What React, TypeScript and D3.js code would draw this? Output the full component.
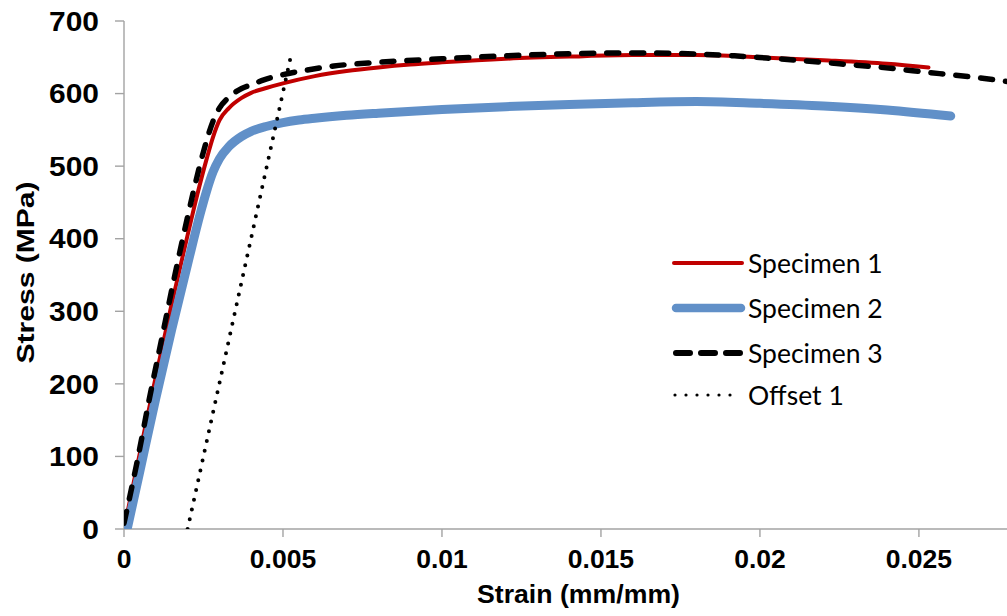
import React from "react";
import * as d3 from "d3";

type P = [number, number];

const specimen1: P[] = [
  [0, 0], [0.0005, 105], [0.001, 210], [0.0015, 310], [0.002, 405], [0.0023, 460],
  [0.0026, 510], [0.0028, 540], [0.003, 563], [0.0033, 580], [0.0037, 594], [0.004, 601],
  [0.0045, 608], [0.005, 614], [0.006, 624], [0.007, 631], [0.008, 636], [0.009, 640],
  [0.01, 643], [0.012, 648], [0.014, 651], [0.016, 653], [0.018, 653], [0.02, 650],
  [0.022, 646], [0.024, 641], [0.0253, 636],
];

const specimen2: P[] = [
  [0.0001, 0], [0.0005, 80], [0.001, 180], [0.0015, 275], [0.002, 365], [0.0024, 435],
  [0.0026, 466], [0.0028, 492], [0.003, 510], [0.0033, 527], [0.0037, 541], [0.004, 548],
  [0.0045, 555], [0.005, 560], [0.0055, 563.5], [0.006, 566], [0.007, 570], [0.008, 573],
  [0.01, 578], [0.012, 582], [0.014, 585], [0.016, 587.5], [0.018, 589], [0.02, 586.5],
  [0.022, 583], [0.024, 577.5], [0.026, 569],
];

const specimen3: P[] = [
  [0, 8], [0.0004, 90], [0.0008, 180], [0.0012, 265], [0.0016, 350], [0.002, 430],
  [0.0022, 468], [0.0025, 520], [0.0028, 562], [0.003, 580], [0.0033, 595], [0.0037, 607],
  [0.004, 612], [0.0044, 619], [0.005, 626], [0.0057, 632], [0.0066, 638], [0.008, 643],
  [0.01, 648], [0.012, 652], [0.014, 655], [0.016, 656], [0.018, 654.5], [0.0192, 652],
  [0.0202, 649], [0.0213, 645.5], [0.0225, 641], [0.0236, 637], [0.0244, 633.5],
  [0.0252, 629.5], [0.0261, 625.5], [0.027, 621], [0.0278, 616.5],
];

const offset1: P[] = [[0.002, 0], [0.00525, 652]];

const xTicks = [0, 0.005, 0.01, 0.015, 0.02, 0.025];
const xTickLabels = ["0", "0.005", "0.01", "0.015", "0.02", "0.025"];
const yTicks = [0, 100, 200, 300, 400, 500, 600, 700];

const legendLabels = ["Specimen 1", "Specimen 2", "Specimen 3", "Offset 1"];

const W = 1007;
const H = 616;
const left = 124;
const right = 1007;
const top = 21;
const bottom = 529;

export default function App() {
  const x = d3.scaleLinear().domain([0, 0.02777]).range([left, right]);
  const y = d3.scaleLinear().domain([0, 700]).range([bottom, top]);
  const line = d3
    .line<P>()
    .x((d) => x(d[0]))
    .y((d) => y(d[1]))
    .curve(d3.curveMonotoneX);
  const straight = d3
    .line<P>()
    .x((d) => x(d[0]))
    .y((d) => y(d[1]));

  const axisColor = "#a3a3a3";
  const red = "#c00000";
  const blue = "#6190c8";
  const tickFont = "'Liberation Sans', Arial, sans-serif";
  const legendFont = "Lato, 'Open Sans', sans-serif";

  const legendRows = [263, 308, 353, 395];

  return (
    <svg
      width={W}
      height={H}
      viewBox={`0 0 ${W} ${H}`}
      style={{ position: "fixed", left: 0, top: 0, background: "#fff" }}
    >
      <defs>
        <clipPath id="plot">
          <rect x={left} y={0} width={right - left} height={bottom} />
        </clipPath>
      </defs>
      <rect width={W} height={H} fill="#fff" />

      {/* axes */}
      <g stroke={axisColor} strokeWidth={1.4} fill="none">
        <line x1={left} x2={left} y1={top} y2={bottom} />
        <line x1={left} x2={right} y1={bottom} y2={bottom} />
        {yTicks.map((t) => (
          <line key={"yt" + t} x1={left - 9} x2={left} y1={y(t)} y2={y(t)} />
        ))}
        {xTicks.map((t) => (
          <line key={"xt" + t} x1={x(t)} x2={x(t)} y1={bottom} y2={bottom + 8} />
        ))}
      </g>

      {/* y tick labels */}
      <g fontFamily={tickFont} fontWeight="bold" fontSize={28} fill="#000">
        {yTicks.map((t) => (
          <text
            key={"yl" + t}
            transform={`translate(99,${y(t)}) scale(1.07,1)`}
            textAnchor="end"
            dominantBaseline="central"
          >
            {t}
          </text>
        ))}
      </g>

      {/* x tick labels */}
      <g fontFamily={tickFont} fontWeight="bold" fontSize={26.5} fill="#000">
        {xTicks.map((t, i) => (
          <text key={"xl" + t} x={x(t)} y={568} textAnchor="middle">
            {xTickLabels[i]}
          </text>
        ))}
      </g>

      {/* axis titles */}
      <text
        x={578.5}
        y={603}
        textAnchor="middle"
        fontFamily={tickFont}
        fontWeight="bold"
        fontSize={25}
        textLength={203}
        lengthAdjust="spacingAndGlyphs"
      >
        Strain (mm/mm)
      </text>
      <text
        transform={`translate(34,272.5) rotate(-90)`}
        textAnchor="middle"
        fontFamily={tickFont}
        fontWeight="bold"
        fontSize={24}
        textLength={182}
        lengthAdjust="spacingAndGlyphs"
      >
        Stress (MPa)
      </text>

      {/* series */}
      <g clipPath="url(#plot)" fill="none">
        <path d={line(specimen1) || ""} stroke={red} strokeWidth={4} strokeLinejoin="round" strokeLinecap="round" />
        <path d={line(specimen2) || ""} stroke={blue} strokeWidth={9} strokeLinejoin="round" strokeLinecap="round" />
        <path
          d={line(specimen3) || ""}
          stroke="#000"
          strokeWidth={5.5}
          strokeDasharray="12 13"
          strokeLinecap="round"
          strokeLinejoin="round"
        />
        <path
          d={straight(offset1) || ""}
          stroke="#000"
          strokeWidth={4}
          strokeDasharray="0 10"
          strokeLinecap="round"
        />
      </g>

      {/* legend */}
      <g fill="none">
        <line x1={674} x2={742} y1={legendRows[0]} y2={legendRows[0]} stroke={red} strokeWidth={4} strokeLinecap="round" />
        <line x1={676} x2={741} y1={legendRows[1]} y2={legendRows[1]} stroke={blue} strokeWidth={8.5} strokeLinecap="round" />
        <line
          x1={676}
          x2={741}
          y1={legendRows[2]}
          y2={legendRows[2]}
          stroke="#000"
          strokeWidth={6}
          strokeDasharray="14 11"
          strokeLinecap="round"
        />
        <line
          x1={675}
          x2={741}
          y1={legendRows[3]}
          y2={legendRows[3]}
          stroke="#000"
          strokeWidth={3.2}
          strokeDasharray="0 11"
          strokeLinecap="round"
        />
      </g>
      <g fontFamily={legendFont} fontSize={26.5} fill="#000">
        {legendLabels.map((l, i) => (
          <text key={l} x={748} y={legendRows[i] + 10}>
            {l}
          </text>
        ))}
      </g>
    </svg>
  );
}
